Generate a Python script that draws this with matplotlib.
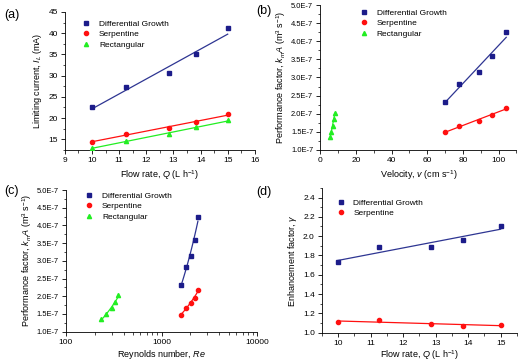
import matplotlib
matplotlib.use("Agg")
import matplotlib.pyplot as plt
import numpy as np
from matplotlib.ticker import MultipleLocator, FuncFormatter, LogLocator, NullFormatter

plt.rcParams['font.family'] = ['Liberation Sans', 'DejaVu Sans']
plt.rcParams['mathtext.fontset'] = 'custom'
plt.rcParams['mathtext.rm'] = 'Liberation Sans'
plt.rcParams['mathtext.it'] = 'Liberation Sans:italic'
plt.rcParams['font.size'] = 6

# data
flow = [10, 11.25, 12.85, 13.85, 15]
current_dg = [22.5, 27.3, 30.5, 35.0, 41.1]
current_serp = [14.4, 16.3, 17.6, 19.0, 21.0]
current_rect = [13.0, 14.5, 16.2, 17.8, 19.5]

vel_dg = [69.7, 78.0, 89.3, 96.2, 104.3]
vel_serp = [69.7, 78.0, 89.3, 96.2, 104.3]
vel_rect = [5.5, 6.3, 7.0, 7.5, 8.2]
kma_dg = [2.32e-7, 2.82e-7, 3.15e-7, 3.60e-7, 4.25e-7]
kma_serp = [1.48e-7, 1.67e-7, 1.81e-7, 1.95e-7, 2.17e-7]
kma_rect = [1.35e-7, 1.50e-7, 1.67e-7, 1.84e-7, 2.02e-7]

re_dg = [1590, 1790, 2020, 2210, 2390]
re_serp = [1590, 1790, 2020, 2210, 2390]
re_rect = [235, 265, 301, 329, 353]

gamma_dg = [1.73, 1.89, 1.89, 1.96, 2.11]
gamma_serp = [1.11, 1.13, 1.09, 1.07, 1.08]

BLUE = '#1c1c8a'
BLUE_LINE = '#2e3592'
RED = '#ff1010'
GREEN = '#22ee22'
names = ['Differential Growth', 'Serpentine', 'Rectangular']
markers = ['s', 'o', '^']
mcols = [BLUE, RED, GREEN]
lcols = [BLUE_LINE, RED, GREEN]


def fit_line(ax, x, y, color):
    k, b = np.polyfit(x, y, 1)
    xs = np.linspace(min(x), max(x), 50)
    ax.plot(xs, k * xs + b, color=color, lw=0.9, zorder=2)


def style(ax, ticksize=6):
    for s in ['top', 'right']:
        ax.spines[s].set_visible(False)
    for s in ['left', 'bottom']:
        ax.spines[s].set_linewidth(0.6)
    ax.tick_params(which='major', direction='out', length=3, width=0.6, labelsize=6, pad=2)
    ax.tick_params(axis='y', labelsize=ticksize)
    ax.tick_params(which='minor', direction='out', length=1.8, width=0.5)


def series(ax, xs, ys, n, anchor):
    for i in range(n):
        fit_line(ax, xs[i], ys[i], lcols[i])
    for i in range(n):
        ax.plot(xs[i], ys[i], ls='none', marker=markers[i], ms=3, color=mcols[i],
                label=names[i], zorder=3)
    ax.legend(loc='upper left', bbox_to_anchor=anchor, frameon=False, fontsize=6,
              handlelength=1.0, handletextpad=1.0, labelspacing=0.3, borderaxespad=0.2)


efmt = FuncFormatter(lambda v, p: f"{v * 1e7:.1f}E-7")

fig = plt.figure(figsize=(5.19, 3.62), dpi=100)

# (a)
ax = fig.add_axes([0.125, 0.586, 0.366, 0.381])
series(ax, [flow] * 3, [current_dg, current_serp, current_rect], 3, (0.065, 0.977))
ax.set_xlim(9, 16)
ax.set_ylim(12.5, 45)
ax.xaxis.set_major_locator(MultipleLocator(1))
ax.xaxis.set_minor_locator(MultipleLocator(0.5))
ax.yaxis.set_major_locator(MultipleLocator(5))
ax.yaxis.set_minor_locator(MultipleLocator(2.5))
ax.set_xlabel('Flow rate, $Q$ (L h$^{-1}$)', fontsize=6.5, labelpad=3)
ax.set_ylabel('Limiting current, $I_L$ (mA)', fontsize=6.5, labelpad=3)
style(ax)

# (b)
ax = fig.add_axes([0.617, 0.586, 0.378, 0.400])
series(ax, [vel_dg, vel_serp, vel_rect], [kma_dg, kma_serp, kma_rect], 3, (0.177, 1.006))
ax.set_xlim(0, 110)
ax.set_ylim(1e-7, 5e-7)
ax.xaxis.set_major_locator(MultipleLocator(20))
ax.xaxis.set_minor_locator(MultipleLocator(10))
ax.yaxis.set_major_locator(MultipleLocator(0.5e-7))
ax.yaxis.set_minor_locator(MultipleLocator(0.25e-7))
ax.yaxis.set_major_formatter(efmt)
ax.set_xlabel('Velocity, $v$ (cm s$^{-1}$)', fontsize=6.5, labelpad=3)
ax.set_ylabel('Performance factor, $k_m A$ (m$^3$ s$^{-1}$)', fontsize=6.5, labelpad=2)
style(ax, 5.4)

# (c)
ax = fig.add_axes([0.127, 0.084, 0.369, 0.391])
series(ax, [re_dg, re_serp, re_rect], [kma_dg, kma_serp, kma_rect], 3, (0.075, 1.02))
ax.set_xscale('log')
ax.set_xlim(100, 10000)
ax.set_ylim(1e-7, 5e-7)
ax.xaxis.set_major_locator(LogLocator(base=10))
ax.xaxis.set_major_formatter(FuncFormatter(lambda v, p: f"{int(round(v))}"))
ax.xaxis.set_minor_locator(LogLocator(base=10, subs=np.arange(2, 10)))
ax.xaxis.set_minor_formatter(NullFormatter())
ax.yaxis.set_major_locator(MultipleLocator(0.5e-7))
ax.yaxis.set_minor_locator(MultipleLocator(0.25e-7))
ax.yaxis.set_major_formatter(efmt)
ax.set_xlabel('Reynolds number, $Re$', fontsize=6.5, labelpad=2)
ax.set_ylabel('Performance factor, $k_m A$ (m$^3$ s$^{-1}$)', fontsize=6.5, labelpad=2)
style(ax, 5.4)

# (d)
ax = fig.add_axes([0.620, 0.081, 0.376, 0.400])
series(ax, [flow] * 2, [gamma_dg, gamma_serp], 2, (0.05, 0.958))
ax.set_xlim(9.5, 15.5)
ax.set_ylim(1.0, 2.5)
ax.xaxis.set_major_locator(MultipleLocator(1))
ax.xaxis.set_minor_locator(MultipleLocator(0.5))
ax.yaxis.set_major_locator(MultipleLocator(0.2))
ax.yaxis.set_minor_locator(MultipleLocator(0.1))
ax.yaxis.set_major_formatter(FuncFormatter(lambda v, p: f"{v:.1f}" if v < 2.45 else ""))
ax.set_xlabel('Flow rate, $Q$ (L h$^{-1}$)', fontsize=6.5, labelpad=1.5)
ax.set_ylabel('Enhancement factor, $\\gamma$', fontsize=6.5, labelpad=3)
style(ax)

for lbl, x, y in [('(a)', 0.008, 0.975), ('(b)', 0.493, 0.985), ('(c)', 0.008, 0.49), ('(d)', 0.493, 0.485)]:
    fig.text(x, y, lbl, fontsize=9, va='top', ha='left')

fig.savefig('out.png', dpi=100)
